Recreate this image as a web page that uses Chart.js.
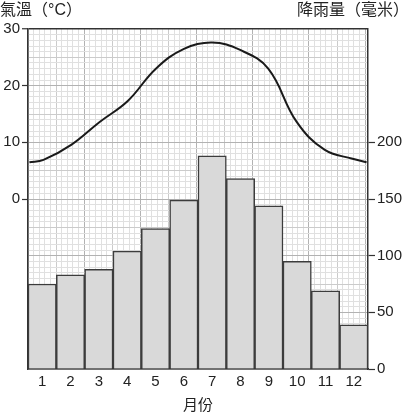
<!DOCTYPE html>
<html>
<head>
<meta charset="utf-8">
<script src="https://cdn.jsdelivr.net/npm/chart.js@4.4.1/dist/chart.umd.min.js"></script>
<style>
  html, body { margin: 0; padding: 0; background: #ffffff; }
  #wrap { position: relative; width: 415px; height: 418px; }
  .ttl { position: absolute; top: 0px; font: 16px 'Liberation Sans', 'Noto Sans CJK TC', sans-serif; color: #222; line-height: 20px; white-space: nowrap; }
  #tl { left: 0px; }
  #tr { right: 6px; }
</style>
</head>
<body>
<div id="wrap">
  <canvas id="c" width="415" height="418"></canvas>
  <div class="ttl" id="tl">氣溫（°C）</div>
  <div class="ttl" id="tr">降雨量（毫米）</div>
</div>
<script>
// ---- data ----
const months = [1, 2, 3, 4, 5, 6, 7, 8, 9, 10, 11, 12];
const monthLabels = ['1', '2', '3', '4', '5', '6', '7', '8', '9', '10', '11', '12'];
const precipitation = [75, 83, 88, 104, 124, 149, 188, 168, 144, 95, 69, 39];   // 毫米
const temperature = [6.9, 9.6, 13.6, 17.3, 23.0, 26.5, 27.6, 26.3, 23.0, 13.7, 8.7, 7.1]; // °C
const temperatureYearStart = 6.5;  // curve value at start of January
const temperatureYearEnd = 6.5;    // curve value at end of December
const tempTicks = [0, 10, 20, 30];
const rainTicks = [0, 50, 100, 150, 200];
const xTitle = '月份';

// ---- build datasets ----
const linePoints = [{ x: 0, y: temperatureYearStart }]
  .concat(months.map((m, i) => ({ x: m - 0.5, y: temperature[i] })))
  .concat([{ x: months.length, y: temperatureYearEnd }]);

const FONT = "'Liberation Sans', 'Noto Sans CJK TC', sans-serif";
const MAJOR = '#b2b2b2', MID = '#cbcbcb', MINOR = '#e0e0e0', NONE = 'rgba(0,0,0,0)', AXIS = '#333333';
const tv = ctx => (ctx && ctx.tick ? ctx.tick.value : null);

new Chart(document.getElementById('c'), {
  type: 'bar',
  data: {
    labels: monthLabels,
    datasets: [
      {
        type: 'line',
        data: linePoints,
        xAxisID: 'xg',
        yAxisID: 'y',
        borderColor: '#1a1a1a',
        borderWidth: 2,
        pointRadius: 0,
        fill: false,
        tension: 0.4,
        order: 0
      },
      {
        type: 'bar',
        data: precipitation,
        xAxisID: 'x',
        yAxisID: 'y1',
        backgroundColor: '#d9d9d9',
        borderColor: '#3c3c3c',
        borderWidth: 1.5,
        grouped: false,
        barPercentage: 1,
        categoryPercentage: 1,
        order: 1
      }
    ]
  },
  options: {
    responsive: false,
    animation: false,
    layout: { padding: { top: 29, left: 0, right: 0, bottom: 0 } },
    plugins: { legend: { display: false }, tooltip: { enabled: false } },
    scales: {
      x: {
        type: 'category',
        position: 'bottom',
        offset: true,
        afterFit: s => { s.height = 49; },
        ticks: {
          autoSkip: false,
          maxRotation: 0,
          padding: 4,
          color: '#222',
          font: { family: FONT, size: 15 }
        },
        grid: { display: false, drawTicks: false },
        border: { display: true, color: AXIS, width: 1.5 },
        title: { display: true, text: xTitle, color: '#222', font: { family: FONT, size: 15 }, padding: { top: 0, bottom: 3 } }
      },
      xg: {
        type: 'linear',
        position: 'top',
        min: 0,
        max: months.length,
        afterFit: s => { s.height = 0; },
        ticks: { display: false, stepSize: 0.1, autoSkip: false },
        grid: {
          drawTicks: false,
          color: ctx => {
            const v = tv(ctx);
            if (v === null) return NONE;
            const k = Math.round(v * 10);
            if (k % 20 === 0) return MAJOR;
            if (k % 10 === 0) return MID;
            if (k % 2 === 0) return MINOR;
            return NONE;
          }
        },
        border: { display: false }
      },
      y: {
        type: 'linear',
        position: 'left',
        min: -30,
        max: 30,
        afterFit: s => { s.width = 28; },
        ticks: {
          stepSize: 1,
          autoSkip: false,
          padding: 2,
          color: '#222',
          font: { family: FONT, size: 15 },
          callback: v => (tempTicks.includes(v) ? String(v) : '')
        },
        grid: {
          tickLength: 6,
          color: ctx => {
            const v = tv(ctx);
            if (v === null) return NONE;
            if (v === 30) return AXIS;
            if (v % 10 === 0) return MAJOR;
            if (v % 5 === 0) return MID;
            return MINOR;
          },
          lineWidth: ctx => (tv(ctx) === 30 ? 1.5 : 1),
          tickColor: ctx => (tempTicks.includes(tv(ctx)) ? AXIS : NONE),
          tickWidth: 1.2
        },
        border: { display: true, color: AXIS, width: 1.5 }
      },
      y1: {
        type: 'linear',
        position: 'right',
        min: 0,
        max: 300,
        afterFit: s => { s.width = 47; },
        ticks: {
          stepSize: 50,
          autoSkip: false,
          padding: 2,
          color: '#222',
          font: { family: FONT, size: 15 },
          callback: v => (rainTicks.includes(v) ? String(v) : '')
        },
        grid: {
          drawOnChartArea: false,
          tickLength: 7,
          tickColor: ctx => (rainTicks.includes(tv(ctx)) ? AXIS : NONE),
          tickWidth: 1.2
        },
        border: { display: true, color: AXIS, width: 1.5 }
      }
    }
  }
});
</script>
</body>
</html>
